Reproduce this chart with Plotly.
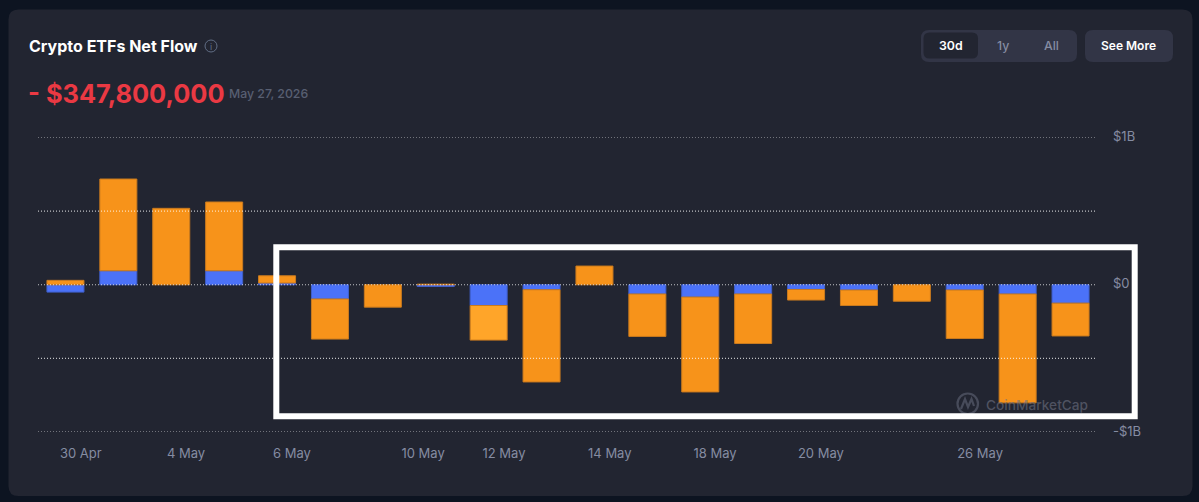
import plotly.graph_objects as go

W, H = 1199, 502

# Daily net flow per asset, in billions of USD (blue first, orange stacked after it)
blue_flow = [-0.05, 0.095, None, 0.095, 0.012, -0.097, None, -0.012, -0.141, -0.034,
             None, -0.063, -0.084, -0.063, -0.032, -0.036, None, -0.036, -0.063, -0.125]
orange_flow = [0.03, 0.623, 0.519, 0.467, 0.049, -0.272, -0.152, 0.004, -0.235, -0.626,
               0.127, -0.288, -0.644, -0.336, -0.072, -0.105, -0.112, -0.329, -0.739, -0.2228]
day_index = list(range(len(orange_flow)))

x_tick_labels = ["30 Apr", "4 May", "6 May", "10 May", "12 May", "14 May", "18 May", "20 May", "26 May"]
x_tick_slots = [0.29, 2.28, 4.28, 6.76, 8.29, 10.29, 12.28, 14.28, 17.29]
y_tick_values = [-1, -0.5, 0, 0.5, 1]
y_tick_labels = ["-$1B", "", "$0", "", "$1B"]

BLUE = "#4b72f8"
ORANGE = "#f7931a"
ORANGE_ACTIVE = "#ffa529"
ACTIVE_DAY = 8
FONT = "Inter"


def fx(px):
    return px / W


def fy(py):
    return 1 - py / H


def round_rect(x0, y0, x1, y1, r):
    """SVG path, in paper fractions, for a rounded box given in page pixels."""
    def p(x, y):
        return f"{fx(x):.5f},{fy(y):.5f}"
    return (f"M{p(x0 + r, y0)} L{p(x1 - r, y0)} Q{p(x1, y0)} {p(x1, y0 + r)} "
            f"L{p(x1, y1 - r)} Q{p(x1, y1)} {p(x1 - r, y1)} L{p(x0 + r, y1)} "
            f"Q{p(x0, y1)} {p(x0, y1 - r)} L{p(x0, y0 + r)} Q{p(x0, y0)} {p(x0 + r, y0)} Z")


def box(x0, y0, x1, y1, r, color):
    return dict(type="path", xref="paper", yref="paper", path=round_rect(x0, y0, x1, y1, r),
                fillcolor=color, line_width=0, layer="below")


def label(text, x, y, size, color, anchor="left", weight=400):
    return dict(text=text, x=fx(x), y=fy(y), xref="paper", yref="paper", showarrow=False,
                xanchor=anchor, yanchor="middle", align=anchor,
                font=dict(family=FONT, size=size, color=color, weight=weight))


fig = go.Figure()
fig.add_bar(x=day_index, y=blue_flow, marker=dict(color=BLUE, line=dict(color="#3f5fcb", width=1)))
fig.add_bar(x=day_index, y=orange_flow,
            marker=dict(color=[ORANGE_ACTIVE if i == ACTIVE_DAY else ORANGE for i in day_index],
                        line=dict(color="#c97a1e", width=1)))

shapes = [
    box(8.5, 9.5, 1192.5, 496, 10, "#222531"),
    box(921, 30, 1077, 62, 8, "#323546"),
    box(923.5, 32.5, 978, 58.5, 6, "#222531"),
    box(1085, 30, 1173, 62, 8, "#323546"),
    # info icon ring beside the title
    dict(type="circle", xref="paper", yref="paper", x0=fx(205), x1=fx(217), y0=fy(40), y1=fy(52),
         line=dict(color="#616e85", width=1), layer="below"),
    # CoinMarketCap logo ring
    dict(type="circle", xref="paper", yref="paper", x0=fx(957.5), x1=fx(978), y0=fy(393.5), y1=fy(414),
         line=dict(color="#474b5a", width=2.2), layer="below"),
    dict(type="path", xref="paper", yref="paper", layer="below",
         path=f"M{fx(961):.5f},{fy(409):.5f} L{fx(965):.5f},{fy(399):.5f} L{fx(968):.5f},{fy(407):.5f} "
              f"L{fx(971.5):.5f},{fy(399):.5f} L{fx(974):.5f},{fy(406):.5f}",
         line=dict(color="#474b5a", width=2.2)),
]
# Dotted guide lines sit above the bars
for value in y_tick_values:
    shapes.append(dict(type="line", xref="paper", yref="y", x0=fx(38), x1=fx(1096), y0=value, y1=value, layer="above",
                       line=dict(color="rgba(255,255,255,0.72)", width=1.2, dash="1px,2px")))
# Highlight frame around the outflow stretch
shapes.append(dict(type="rect", xref="paper", yref="paper", x0=fx(276.3), x1=fx(1134.7),
                   y0=fy(247.3), y1=fy(416.2), line=dict(color="#ffffff", width=6), layer="above"))

annotations = [
    label("Crypto ETFs Net Flow", 26.5, 45.5, 16, "#ffffff", weight=700),
    label("i", 211, 46, 9, "#616e85"),
    label("- $347,800,000", 26, 93.5, 25.4, "#ea3943", weight=700),
    label("May 27, 2026", 227, 93.5, 12.3, "#585f72", weight=500),
    label("30d", 950.5, 45.5, 12.3, "#ffffff", "center", 600),
    label("1y", 1003, 45.5, 12.3, "#858ca2", "center", 500),
    label("All", 1051, 45.5, 12.3, "#858ca2", "center", 500),
    label("See More", 1128.5, 45.5, 12, "#ffffff", "center", 600),
    label("CoinMarketCap", 983.5, 405, 13.7, "rgba(110,114,130,0.6)", weight=500),
]
annotations[1]["xanchor"] = "center"

fig.update_layout(
    width=W, height=H, margin=dict(l=0, r=0, t=0, b=0, autoexpand=False),
    paper_bgcolor="#0d1421", plot_bgcolor="rgba(0,0,0,0)",
    barmode="relative", bargap=0.3, showlegend=False, hovermode=False,
    font=dict(family=FONT, size=13, color="#858ca2"),
    shapes=shapes, annotations=annotations,
    xaxis=dict(domain=[fx(39), fx(1097)], range=[-0.5, 19.5], showgrid=False, zeroline=False, showline=False,
               tickmode="array", tickvals=x_tick_slots, ticktext=x_tick_labels, ticks="", ticklabelstandoff=12,
               tickfont=dict(family=FONT, size=13, color="#858ca2")),
    yaxis=dict(domain=[fy(432), fy(137.5)], range=[-1, 1], side="right", showgrid=False, zeroline=False, showline=False,
               tickmode="array", tickvals=y_tick_values, ticktext=y_tick_labels, ticks="", ticklabelstandoff=15,
               ticklabelshift=-1, tickfont=dict(family=FONT, size=13, color="#858ca2")),
)

fig.write_html("out.html", config=dict(displayModeBar=False))
